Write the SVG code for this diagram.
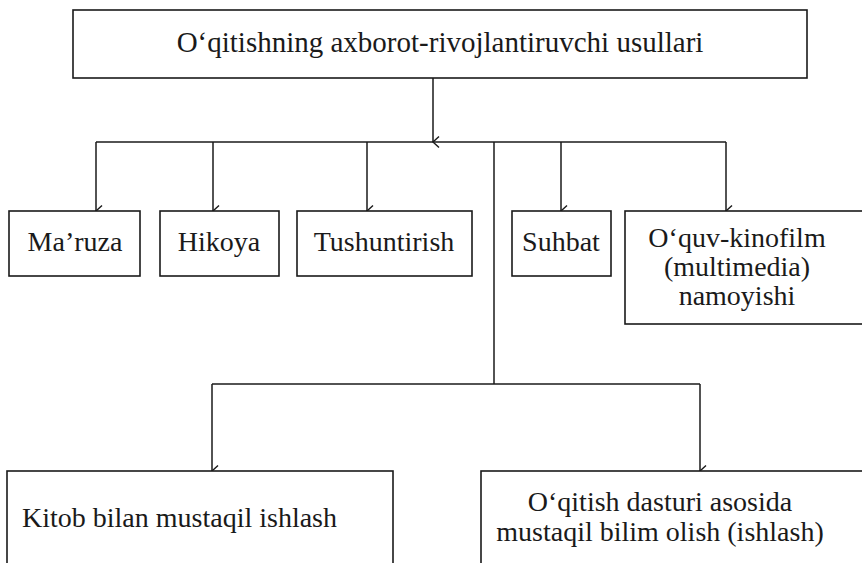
<svg xmlns="http://www.w3.org/2000/svg" width="862" height="563" viewBox="0 0 862 563">
<defs>
<marker id="ah" markerWidth="14" markerHeight="14" refX="7" refY="12" orient="auto" markerUnits="userSpaceOnUse" viewBox="0 0 14 14">
<path d="M1.5,6 L7,12 L12.5,6" fill="none" stroke="#1a1a1a" stroke-width="1.4"/>
</marker>
<style>
.box{fill:#fff;stroke:#1a1a1a;stroke-width:1.6}
.t{font-family:"Liberation Serif","Times New Roman",serif;font-size:28px;fill:#1a1a1a}
.c{text-anchor:middle}
.ln{fill:none;stroke:#1a1a1a;stroke-width:1.5}
</style>
</defs>
<rect width="862" height="563" fill="#fff"/>
<g id="connectors">
<path class="ln" d="M433,78 V142" marker-end="url(#ah)"/>
<path class="ln" d="M96,142 H726"/>
<path class="ln" d="M96,142 V211" marker-end="url(#ah)"/>
<path class="ln" d="M213,142 V211" marker-end="url(#ah)"/>
<path class="ln" d="M367,142 V211" marker-end="url(#ah)"/>
<path class="ln" d="M561,142 V211" marker-end="url(#ah)"/>
<path class="ln" d="M726,142 V211" marker-end="url(#ah)"/>
<path class="ln" d="M494,142 V384"/>
<path class="ln" d="M212,384 H700"/>
<path class="ln" d="M212,384 V471" marker-end="url(#ah)"/>
<path class="ln" d="M700,384 V471" marker-end="url(#ah)"/>
</g>
<g id="root">
<rect class="box" x="73" y="10" width="734" height="68"/>
<text class="t c" x="440" y="52" style="font-size:29px">O‘qitishning axborot-rivojlantiruvchi usullari</text>
</g>
<g id="maruza">
<rect class="box" x="9" y="211" width="131" height="65"/>
<text class="t c" x="75" y="251">Ma’ruza</text>
</g>
<g id="hikoya">
<rect class="box" x="160" y="211" width="119" height="65"/>
<text class="t c" x="219" y="251">Hikoya</text>
</g>
<g id="tushuntirish">
<rect class="box" x="297" y="211" width="175" height="65"/>
<text class="t c" x="384" y="251">Tushuntirish</text>
</g>
<g id="suhbat">
<rect class="box" x="512" y="211" width="99" height="65"/>
<text class="t c" x="561" y="251">Suhbat</text>
</g>
<g id="kinofilm">
<rect class="box" x="625" y="211" width="245" height="113"/>
<text class="t c" x="737" y="247">O‘quv-kinofilm</text>
<text class="t c" x="737" y="276">(multimedia)</text>
<text class="t c" x="737" y="305">namoyishi</text>
</g>
<g id="kitob">
<rect class="box" x="7" y="471" width="386" height="100"/>
<text class="t" x="22" y="527">Kitob bilan mustaqil ishlash</text>
</g>
<g id="dastur">
<rect class="box" x="481" y="471" width="390" height="100"/>
<text class="t c" x="660" y="511">O‘qitish dasturi asosida</text>
<text class="t c" x="660" y="541">mustaqil bilim olish (ishlash)</text>
</g>
</svg>
